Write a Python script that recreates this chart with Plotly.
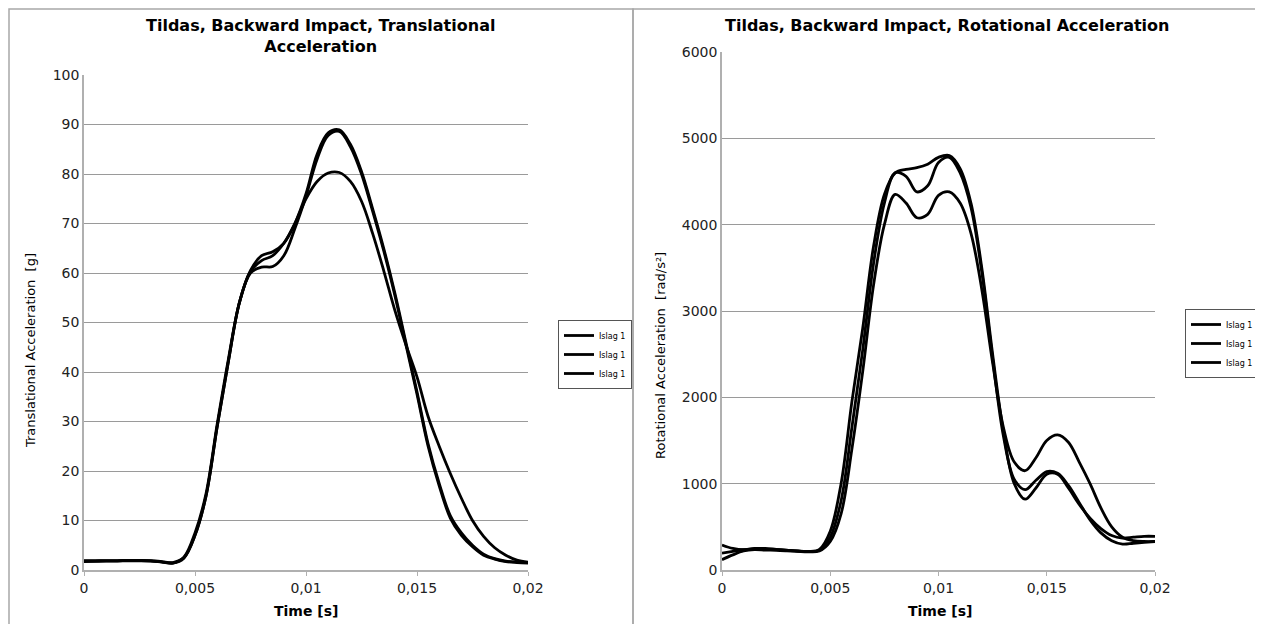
import plotly.graph_objects as go

# ---- Data -------------------------------------------------------------
time_s = [i * 0.0005 for i in range(41)]

trans_a = [1.9, 1.9, 1.9, 1.9, 1.95, 1.95, 1.9, 1.7, 1.5, 2.5, 7, 15, 29, 42, 54, 60.5, 63.5, 64.3, 66, 70,
           76, 84, 88.3, 88.9, 86, 80.5, 73, 65, 56, 46, 36, 25.5, 17.5, 11, 7.5, 5, 3.2, 2.3, 1.8, 1.6, 1.5]
trans_b = [1.8, 1.8, 1.85, 1.85, 1.9, 1.9, 1.85, 1.65, 1.4, 2.4, 7, 15, 29, 42, 54, 60, 61.2, 61.3, 63.5, 69,
           75.5, 83, 87.8, 88.6, 85.5, 80, 72.5, 64.5, 55.5, 45.5, 35.5, 25, 17, 10.5, 7, 4.7, 3, 2.2, 1.7, 1.5, 1.4]
trans_c = [1.7, 1.75, 1.8, 1.8, 1.85, 1.85, 1.8, 1.6, 1.4, 2.6, 7.5, 15.5, 29.5, 42.5, 54, 60.3, 62.5, 63.5, 66, 70,
           75, 78.5, 80.2, 80.3, 78.5, 74.5, 68, 60.5, 52.5, 45.5, 39, 31, 25, 19.5, 14.5, 10, 6.8, 4.5, 3, 2, 1.6]

rot_d = [290, 250, 235, 250, 250, 240, 230, 220, 215, 240, 450, 1000, 1950, 2800, 3750, 4350, 4600, 4640, 4660, 4700,
         4780, 4800, 4650, 4250, 3500, 2500, 1600, 1000, 820, 950, 1110, 1110, 950, 760, 600, 480, 400, 370, 380, 390, 390]
rot_e = [195, 215, 235, 245, 240, 235, 228, 220, 212, 230, 380, 800, 1650, 2550, 3550, 4250, 4600, 4560, 4380, 4450,
         4720, 4780, 4600, 4200, 3450, 2450, 1550, 1050, 930, 1040, 1140, 1120, 980, 780, 580, 430, 340, 300, 310, 320, 330]
rot_f = [120, 175, 220, 235, 230, 228, 222, 215, 210, 220, 330, 650, 1400, 2300, 3300, 4000, 4350, 4250, 4080, 4120,
         4340, 4380, 4250, 3900, 3250, 2400, 1650, 1250, 1150, 1300, 1500, 1565, 1480, 1250, 1000, 720, 500, 380, 340, 330, 330]

series_name = "Islag 1"
x_tickvals = [0, 0.005, 0.01, 0.015, 0.02]
x_ticktext = ["0", "0,005", "0,01", "0,015", "0,02"]
trans_ticks = list(range(0, 101, 10))
rot_ticks = list(range(0, 6001, 1000))

# ---- Figure -----------------------------------------------------------
# The page body has an 8px margin, so the figure is 16px smaller than the window
OFF = 8
W, H = 1263 - 2 * OFF, 632 - 2 * OFF
FONT = "Verdana, DejaVu Sans, sans-serif"
fig = go.Figure()

for ys in (trans_a, trans_b, trans_c):
    fig.add_trace(go.Scatter(x=time_s, y=ys, mode="lines", name=series_name,
                             line=dict(color="black", width=2.8, shape="spline", smoothing=1.0),
                             xaxis="x", yaxis="y", legend="legend"))
for ys in (rot_d, rot_e, rot_f):
    fig.add_trace(go.Scatter(x=time_s, y=ys, mode="lines", name=series_name,
                             line=dict(color="black", width=2.8, shape="spline", smoothing=1.0),
                             xaxis="x2", yaxis="y2", legend="legend2"))

def px(x):
    return (x - OFF) / W

def py(y):
    return 1 - (y - OFF) / H

grid = "#9a9a9a"
axline = "#b0b0b0"
tickfont = dict(family=FONT, size=14, color="#222")

common_x = dict(range=[0, 0.02], tickvals=x_tickvals, ticktext=x_ticktext, showgrid=False,
                zeroline=False, showline=True, linecolor=axline, linewidth=1.5,
                ticks="outside", ticklen=4, tickcolor=axline, tickfont=tickfont)
common_y = dict(showgrid=True, gridcolor=grid, gridwidth=1, zeroline=False, showline=True,
                linecolor=axline, linewidth=1.5, ticks="", tickfont=tickfont)

fig.update_layout(
    width=W, height=H,
    margin=dict(l=0, r=0, t=0, b=0, autoexpand=False),
    paper_bgcolor="white", plot_bgcolor="white",
    font=dict(family=FONT, color="black"),
    xaxis=dict(domain=[px(84), px(528)], anchor="y", **common_x),
    yaxis=dict(domain=[py(570), py(75)], anchor="x", range=[0, 100], tickvals=trans_ticks, **common_y),
    xaxis2=dict(domain=[px(722), px(1155)], anchor="y2", **common_x),
    yaxis2=dict(domain=[py(570), py(52)], anchor="x2", range=[0, 6000], tickvals=rot_ticks, **common_y),
    legend=dict(x=px(558), y=py(320), xanchor="left", yanchor="top",
                bordercolor="#555", borderwidth=1, bgcolor="white",
                font=dict(family=FONT, size=8), tracegroupgap=0),
    legend2=dict(x=px(1185), y=py(309), xanchor="left", yanchor="top",
                 bordercolor="#555", borderwidth=1, bgcolor="white",
                 font=dict(family=FONT, size=8), tracegroupgap=0),
    showlegend=True,
)

annotations = [
    dict(text="<b>Tildas, Backward Impact, Translational<br>Acceleration</b>", x=px(320), y=py(36),
         font=dict(family=FONT, size=16)),
    dict(text="<b>Tildas, Backward Impact, Rotational Acceleration</b>", x=px(947), y=py(25),
         font=dict(family=FONT, size=16)),
    dict(text="<b>Time [s]</b>", x=px(306), y=py(611), font=dict(family=FONT, size=14)),
    dict(text="<b>Time [s]</b>", x=px(940), y=py(611), font=dict(family=FONT, size=14)),
    dict(text="Translational Acceleration  [g]", x=px(31), y=py(351), textangle=-90,
         font=dict(family=FONT, size=13)),
    dict(text="Rotational Acceleration  [rad/s²]", x=px(660), y=py(356), textangle=-90,
         font=dict(family=FONT, size=13)),
]
for a in annotations:
    a.update(xref="paper", yref="paper", showarrow=False, xanchor="center", yanchor="middle")
fig.update_layout(annotations=annotations)

border = "#a8a8a8"
fig.update_layout(shapes=[
    dict(type="rect", xref="paper", yref="paper", x0=px(9), x1=px(633), y0=-0.05, y1=py(9),
         line=dict(color=border, width=1.5)),
    dict(type="rect", xref="paper", yref="paper", x0=px(633), x1=px(1262), y0=-0.05, y1=py(9),
         line=dict(color=border, width=1.5)),
])

fig.write_html("out.html")
